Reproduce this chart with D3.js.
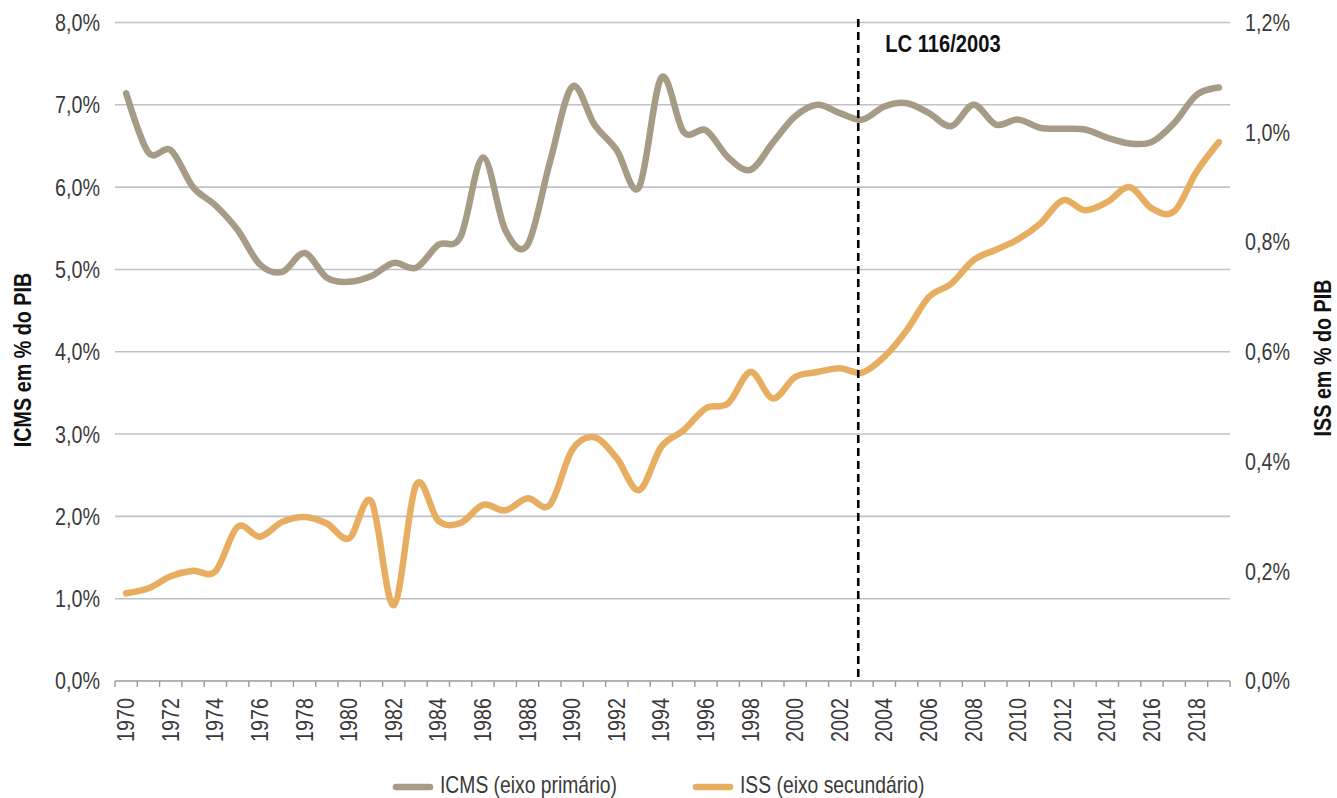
<!DOCTYPE html>
<html><head><meta charset="utf-8">
<script src="https://cdn.jsdelivr.net/npm/d3@7"></script>
<style>
body{margin:0;background:#fff}
svg{display:block}
text{font-family:"Liberation Sans",Arial,sans-serif;}
</style></head>
<body><svg id="c" width="1337" height="798"></svg>
<script>
const years = ["1970","1971","1972","1973","1974","1975","1976","1977","1978","1979",
"1980","1981","1982","1983","1984","1985","1986","1987","1988","1989",
"1990","1991","1992","1993","1994","1995","1996","1997","1998","1999",
"2000","2001","2002","2003","2004","2005","2006","2007","2008","2009",
"2010","2011","2012","2013","2014","2015","2016","2017","2018","2019"];
const icms = [7.14,6.42,6.45,6.00,5.78,5.48,5.06,4.97,5.20,4.90,
4.85,4.92,5.08,5.02,5.30,5.40,6.36,5.48,5.30,6.30,
7.22,6.76,6.45,6.00,7.33,6.67,6.69,6.36,6.21,6.54,
6.86,7.00,6.90,6.82,6.98,7.02,6.90,6.74,7.00,6.76,
6.82,6.72,6.71,6.70,6.60,6.53,6.55,6.78,7.12,7.21];
const iss = [0.160,0.169,0.191,0.201,0.200,0.281,0.263,0.290,0.299,0.287,
0.260,0.327,0.138,0.357,0.292,0.288,0.321,0.311,0.333,0.321,
0.421,0.444,0.406,0.348,0.427,0.457,0.497,0.506,0.563,0.515,
0.554,0.563,0.570,0.562,0.591,0.639,0.700,0.724,0.767,0.786,
0.805,0.834,0.876,0.858,0.873,0.900,0.861,0.856,0.928,0.982];
const leftTicks = [0,1,2,3,4,5,6,7,8];
const rightTicks = [0,0.2,0.4,0.6,0.8,1.0,1.2];
const xLabels = ["1970","1972","1974","1976","1978","1980","1982","1984","1986","1988",
"1990","1992","1994","1996","1998","2000","2002","2004","2006","2008","2010","2012","2014","2016","2018"];
const seriesNames = ["ICMS (eixo primário)","ISS (eixo secundário)"];
const colors = ["#A69B85","#E7AE62"];
const leftTitle = "ICMS em % do PIB";
const rightTitle = "ISS em % do PIB";
const markerYear = "2003";
const markerLabel = "LC 116/2003";

const svg = d3.select("#c");
const L=115,R=1230,T=22.5,B=681;
const FS=23.5, SX=0.84;
const x = d3.scaleBand().domain(years).range([L,R]).padding(0);
const cx = d => x(d)+x.bandwidth()/2;
const yL = d3.scaleLinear().domain([0,8]).range([B,T]);
const yR = d3.scaleLinear().domain([0,1.2]).range([B,T]);
const fmtL = d => d3.format(".1f")(d).replace(".",",")+"%";

function ctext(parent, px, py, str, opts={}){
  const rot = opts.rot||0;
  const t = parent.append("text")
    .attr("transform",`translate(${px},${py}) rotate(${rot}) scale(${SX},1)`)
    .attr("font-size",opts.size||FS)
    .attr("fill",opts.fill||"#3a3a3a")
    .attr("text-anchor",opts.anchor||"start")
    .text(str);
  if(opts.bold) t.attr("font-weight","bold");
  if(opts.dy) t.attr("dy",opts.dy);
  return t;
}

svg.append("g").selectAll("line").data(leftTicks.filter(d=>d>0)).join("line")
  .attr("x1",L).attr("x2",R).attr("y1",d=>yL(d)).attr("y2",d=>yL(d))
  .attr("stroke","#C0C0C6").attr("stroke-width",1.6);

svg.append("line").attr("x1",L).attr("x2",R).attr("y1",yL(0)).attr("y2",yL(0))
  .attr("stroke","#9a9a9a").attr("stroke-width",1.6);
const bounds = years.map(d=>x(d)).concat([R]);
svg.append("g").selectAll("line").data(bounds).join("line")
  .attr("x1",d=>d).attr("x2",d=>d).attr("y1",yL(0)).attr("y2",yL(0)+6)
  .attr("stroke","#9a9a9a").attr("stroke-width",1.4);

const gx = svg.append("g");
xLabels.forEach(d=>ctext(gx, cx(d)+8, yL(0)+17, d, {rot:-90, anchor:"end"}));

const gl = svg.append("g");
leftTicks.forEach(d=>ctext(gl, 100, yL(d), fmtL(d), {anchor:"end", dy:"0.36em"}));
const gr = svg.append("g");
rightTicks.forEach(d=>ctext(gr, 1245, yR(d), fmtL(d), {anchor:"start", dy:"0.36em"}));

ctext(svg, 31, 360, leftTitle, {rot:-90, anchor:"middle", bold:true, fill:"#111"});
ctext(svg, 1331, 358, rightTitle, {rot:-90, anchor:"middle", bold:true, fill:"#111"});

const curve = d3.curveCardinal.tension(0);
const lineL = d3.line().x((d,i)=>cx(years[i])).y(d=>yL(d)).curve(curve);
const lineR = d3.line().x((d,i)=>cx(years[i])).y(d=>yR(d)).curve(curve);
svg.append("path").attr("d",lineL(icms)).attr("fill","none").attr("stroke",colors[0])
  .attr("stroke-width",6.5).attr("stroke-linecap","round").attr("stroke-linejoin","round");
svg.append("path").attr("d",lineR(iss)).attr("fill","none").attr("stroke",colors[1])
  .attr("stroke-width",6.5).attr("stroke-linecap","round").attr("stroke-linejoin","round");

const mx = x(markerYear)+x.bandwidth()*0.33;
svg.append("line").attr("x1",mx).attr("x2",mx).attr("y1",19).attr("y2",yL(0))
  .attr("stroke","#000").attr("stroke-width",2.6).attr("stroke-dasharray","8,5");
ctext(svg, mx+27, 52, markerLabel, {bold:true, fill:"#111", size:24});

const lg = [{x:393},{x:693}];
seriesNames.forEach((n,i)=>{
  const g = svg.append("g");
  g.append("line").attr("x1",lg[i].x+3).attr("x2",lg[i].x+37).attr("y1",787).attr("y2",787)
    .attr("stroke",colors[i]).attr("stroke-width",6.5).attr("stroke-linecap","round");
  ctext(g, lg[i].x+47, 793, n, {size:23});
});
</script></body></html>
